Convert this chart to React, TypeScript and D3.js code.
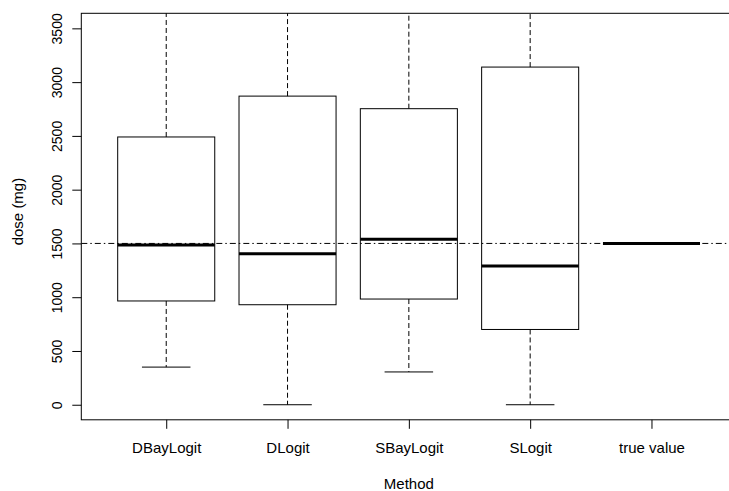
import { useRef, useEffect } from 'react';
import * as d3 from 'd3';

// values (dose in mg)
const methods = ['DBayLogit', 'DLogit', 'SBayLogit', 'SLogit', 'true value'];
const lowerWhisker = [350, 0, 305, 0, 1500];
const q1 = [965, 930, 983, 700, 1500];
const median = [1485, 1405, 1540, 1290, 1500];
const q3 = [2490, 2870, 2753, 3140, 1500];
// the upper whiskers run off the top of the plot, real ends not visible
const upperWhisker = [4700, 5200, 4900, 5600, 1500];
const yTicks = [0, 500, 1000, 1500, 2000, 2500, 3000, 3500];
const trueDose = 1500;

const App = () => {
  const d3Container = useRef(null);
  const width = 729;
  const height = 491;
  const font = '"Liberation Sans", Arial, sans-serif';

  useEffect(() => {
    if (!d3Container.current) return;
    const root = d3.select(d3Container.current);
    root.selectAll('*').remove();

    const svg = root
      .append('svg')
      .attr('width', width)
      .attr('height', height)
      .style('position', 'absolute')
      .style('left', 0)
      .style('top', 0)
      .style('background', '#fff');

    const left = 81.3;
    const right = 736.4;
    const top = 13.3;
    const bottom = 419.8;

    // R style: xlim = c(0.5, n + 0.5) padded by 4%
    const x = d3.scaleLinear().domain([0.3, 5.7]).range([left, right]);
    const y = d3.scaleLinear().domain([-140, 3640]).range([bottom, top]);
    const boxW = (x(1.8) - x(1)) ;
    const capW = boxW / 2;

    svg
      .append('clipPath')
      .attr('id', 'plot-clip')
      .append('rect')
      .attr('x', left)
      .attr('y', top)
      .attr('width', right - left)
      .attr('height', bottom - top);

    const plot = svg.append('g').attr('clip-path', 'url(#plot-clip)');

    const data = methods.map((m, i) => ({
      m,
      pos: i + 1,
      lo: lowerWhisker[i],
      q1: q1[i],
      med: median[i],
      q3: q3[i],
      hi: upperWhisker[i]
    }));

    const groups = plot
      .selectAll('g.box')
      .data(data)
      .enter()
      .append('g')
      .attr('class', 'box');

    // whiskers (dashed)
    groups
      .append('line')
      .attr('x1', d => x(d.pos))
      .attr('x2', d => x(d.pos))
      .attr('y1', d => y(d.q3))
      .attr('y2', d => y(d.hi))
      .attr('stroke', '#000')
      .attr('stroke-dasharray', '5,3');
    groups
      .append('line')
      .attr('x1', d => x(d.pos))
      .attr('x2', d => x(d.pos))
      .attr('y1', d => y(d.q1))
      .attr('y2', d => y(d.lo))
      .attr('stroke', '#000')
      .attr('stroke-dasharray', '5,3');

    // staples
    groups
      .append('line')
      .attr('x1', d => x(d.pos) - capW / 2)
      .attr('x2', d => x(d.pos) + capW / 2)
      .attr('y1', d => y(d.lo))
      .attr('y2', d => y(d.lo))
      .attr('stroke', '#000');
    groups
      .append('line')
      .attr('x1', d => x(d.pos) - capW / 2)
      .attr('x2', d => x(d.pos) + capW / 2)
      .attr('y1', d => y(d.hi))
      .attr('y2', d => y(d.hi))
      .attr('stroke', '#000');

    // boxes
    groups
      .append('rect')
      .attr('x', d => x(d.pos) - boxW / 2)
      .attr('width', boxW)
      .attr('y', d => y(d.q3))
      .attr('height', d => y(d.q1) - y(d.q3))
      .attr('fill', 'none')
      .attr('stroke', '#000');

    // medians
    groups
      .append('line')
      .attr('x1', d => x(d.pos) - boxW / 2)
      .attr('x2', d => x(d.pos) + boxW / 2)
      .attr('y1', d => y(d.med))
      .attr('y2', d => y(d.med))
      .attr('stroke', '#000')
      .attr('stroke-width', 3);

    // abline(h = 1500, lty = "dotdash")
    plot
      .append('line')
      .attr('x1', left)
      .attr('x2', right)
      .attr('y1', y(trueDose))
      .attr('y2', y(trueDose))
      .attr('stroke', '#000')
      .attr('stroke-dasharray', '6,3,1.5,3');

    // frame
    svg
      .append('rect')
      .attr('x', left)
      .attr('y', top)
      .attr('width', right - left)
      .attr('height', bottom - top)
      .attr('fill', 'none')
      .attr('stroke', '#000');

    // y axis
    const yAxis = svg
      .append('g')
      .attr('transform', `translate(${left},0)`)
      .call(d3.axisLeft(y).tickValues(yTicks).tickSize(9).tickFormat(d3.format('d')));
    yAxis.select('.domain').remove();
    yAxis.selectAll('line').attr('stroke', '#000');
    yAxis
      .selectAll('text')
      .attr('x', 0)
      .attr('dy', 0)
      .attr('transform', 'translate(-19,0) rotate(-90)')
      .style('text-anchor', 'middle')
      .style('font-family', font)
      .style('font-size', '14px')
      .attr('fill', '#000');

    // x axis
    const xAxis = svg
      .append('g')
      .attr('transform', `translate(0,${bottom})`)
      .call(
        d3
          .axisBottom(x)
          .tickValues(d3.range(1, methods.length + 1))
          .tickSize(9)
          .tickFormat((d, i) => methods[i])
      );
    xAxis.select('.domain').remove();
    xAxis.selectAll('line').attr('stroke', '#000');
    xAxis
      .selectAll('text')
      .attr('y', 33.5)
      .attr('dy', 0)
      .style('font-family', font)
      .style('font-size', '15px')
      .attr('fill', '#000');

    // axis titles
    svg
      .append('text')
      .attr('transform', `translate(23,${(top + bottom) / 2 - 5}) rotate(-90)`)
      .style('text-anchor', 'middle')
      .style('font-family', font)
      .style('font-size', '15px')
      .text('dose (mg)');

    svg
      .append('text')
      .attr('x', (left + right) / 2)
      .attr('y', 489)
      .style('text-anchor', 'middle')
      .style('font-family', font)
      .style('font-size', '15px')
      .text('Method');
  }, []);

  return <div ref={d3Container} />;
};

export default App;
